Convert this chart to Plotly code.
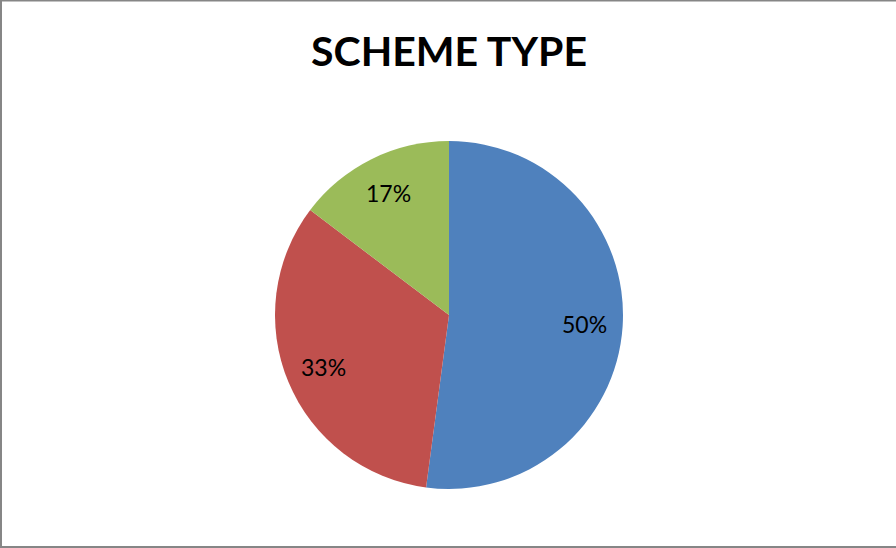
import math
import plotly.graph_objects as go

categories = ["Type A", "Type B", "Type C"]
values = [52.1, 33.2, 14.7]
label_texts = ["50%", "33%", "17%"]
colors = ["#4F81BD", "#C0504D", "#9BBB59"]
title_text = "SCHEME TYPE"

W, H = 896, 548
CX, CY, R = 449, 315, 174
LABEL_FRAC = 0.78

fig = go.Figure(go.Pie(
    labels=categories,
    values=values,
    textinfo="none",
    marker=dict(colors=colors, line=dict(width=0)),
    sort=False,
    direction="clockwise",
    rotation=0,
    hole=0,
    domain=dict(x=[(CX - R) / W, (CX + R) / W], y=[1 - (CY + R) / H, 1 - (CY - R) / H]),
    showlegend=False,
    hoverinfo="label+percent",
))

# data labels placed along each slice's mid angle
total = sum(values)
annotations = []
cum = 0.0
for v, t in zip(values, label_texts):
    mid = (cum + v / 2) / total * 2 * math.pi
    cum += v
    px = CX + LABEL_FRAC * R * math.sin(mid)
    py = CY - LABEL_FRAC * R * math.cos(mid)
    annotations.append(dict(
        x=px / W, y=1 - py / H, xref="paper", yref="paper",
        text=t, showarrow=False, xanchor="center", yanchor="middle",
        font=dict(family="Lato, Open Sans, sans-serif", size=23, color="black"),
    ))

fig.update_layout(
    width=W, height=H,
    margin=dict(l=0, r=0, t=0, b=0),
    paper_bgcolor="white",
    plot_bgcolor="white",
    title=dict(text="<b>" + title_text + "</b>", x=449 / W, xanchor="center",
               y=1 - 52 / H, yanchor="middle",
               font=dict(family="Lato, Open Sans, sans-serif", size=41, color="black")),
    annotations=annotations,
    shapes=[
        dict(type="line", xref="paper", yref="paper", x0=1 / W, x1=1 / W, y0=0, y1=1,
             line=dict(color="#868686", width=2)),
        dict(type="line", xref="paper", yref="paper", x0=0, x1=1, y0=1 - 0.75 / H, y1=1 - 0.75 / H,
             line=dict(color="#868686", width=1.5)),
        dict(type="line", xref="paper", yref="paper", x0=0, x1=1, y0=1 / H, y1=1 / H,
             line=dict(color="#868686", width=2)),
    ],
)

fig.write_html("out.html",
               config={"displayModeBar": False},
               post_script="document.body.style.margin='0';document.body.style.overflow='hidden';")
